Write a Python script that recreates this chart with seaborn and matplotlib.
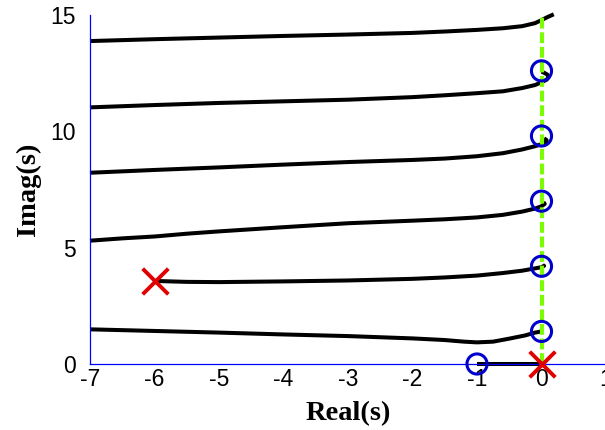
import numpy as np
import pandas as pd
import matplotlib
matplotlib.use("Agg")
import matplotlib.pyplot as plt
import seaborn as sns

# Root-locus branches (real part, imaginary part), traced from left to right
branch_1_re = [-7, -6, -5, -4, -3, -2, -1.5, -1, -0.6, -0.3, -0.1, 0.0, 0.1, 0.19]
branch_1_im = [13.88, 13.96, 14.03, 14.10, 14.16, 14.23, 14.29, 14.36, 14.43, 14.52, 14.65, 14.78, 14.92, 15.03]

branch_2_re = [-7, -6, -5, -4, -3, -2, -1.5, -1, -0.6, -0.3, -0.1, 0.0, 0.08, 0.11, 0.09, 0.04, 0.0]
branch_2_im = [11.03, 11.13, 11.22, 11.29, 11.36, 11.47, 11.55, 11.64, 11.72, 11.86, 11.99, 12.11, 12.22, 12.32, 12.44, 12.52, 12.56]

branch_3_re = [-7, -6, -5, -4, -3, -2, -1.5, -1, -0.6, -0.3, -0.1, 0.0, 0.07, 0.08, 0.04]
branch_3_im = [8.22, 8.34, 8.45, 8.57, 8.68, 8.77, 8.83, 8.93, 9.06, 9.22, 9.36, 9.45, 9.54, 9.62, 9.70]

branch_4_re = [-7, -6.5, -6, -5.5, -5, -4, -3, -2, -1.5, -1, -0.6, -0.3, -0.1, 0.0, 0.05, 0.03]
branch_4_im = [5.30, 5.40, 5.48, 5.60, 5.70, 5.88, 6.05, 6.16, 6.22, 6.30, 6.41, 6.55, 6.68, 6.78, 6.88, 6.96]

branch_5_re = [-6, -5.5, -5, -4, -3, -2, -1.5, -1, -0.6, -0.3, -0.1, 0.0, 0.04, 0.02]
branch_5_im = [3.57, 3.53, 3.52, 3.55, 3.59, 3.66, 3.72, 3.80, 3.91, 4.01, 4.11, 4.16, 4.22, 4.25]

branch_6_re = [-7, -6, -5, -4, -3, -2, -1.5, -1.2, -1, -0.75, -0.5, -0.25, -0.1, 0.0, 0.03]
branch_6_im = [1.49, 1.42, 1.35, 1.27, 1.20, 1.10, 1.03, 0.96, 0.93, 0.96, 1.09, 1.23, 1.35, 1.40, 1.43]

branch_7_re = [-1, 0]
branch_7_im = [0, 0]

# Open-loop zeros and poles
zeros_re = [0, 0, 0, 0, 0, -1]
zeros_im = [12.6, 9.8, 7.0, 4.2, 1.4, 0]
poles_re = [0, -6]
poles_im = [0, 3.57]

# Stability boundary (imaginary axis)
boundary_re = 0

x_ticks = [-7, -6, -5, -4, -3, -2, -1, 0, 1]
y_ticks = [0, 5, 10, 15]

branches = [
    (branch_1_re, branch_1_im), (branch_2_re, branch_2_im), (branch_3_re, branch_3_im),
    (branch_4_re, branch_4_im), (branch_5_re, branch_5_im), (branch_6_re, branch_6_im),
    (branch_7_re, branch_7_im),
]
locus = pd.concat(
    [pd.DataFrame({"re": re, "im": im, "branch": k, "order": np.arange(len(re))})
     for k, (re, im) in enumerate(branches)],
    ignore_index=True,
)
zeros = pd.DataFrame({"re": zeros_re, "im": zeros_im})
poles = pd.DataFrame({"re": poles_re, "im": poles_im})

sns.set_theme(style="white")
plt.rcParams["font.family"] = ["Liberation Sans", "DejaVu Sans"]
plt.rcParams["text.color"] = "black"
plt.rcParams["axes.labelcolor"] = "black"

fig = plt.figure(figsize=(6.05, 4.30), dpi=100)
ax = fig.add_axes([90 / 605, 66 / 430, 516 / 605, 349 / 430])

sns.lineplot(data=locus, x="re", y="im", units="branch", estimator=None, sort=False,
             color="black", linewidth=2.9, ax=ax, zorder=2, clip_on=False,
             solid_capstyle="butt")

ax.axvline(boundary_re, color="#7CFC00", linewidth=3, linestyle=(0, (2.6, 0.9)), zorder=3)

sns.scatterplot(data=zeros, x="re", y="im", marker="o", s=210, facecolor="none",
                edgecolor="#0000CC", linewidth=2.2, ax=ax, zorder=4, clip_on=False)
sns.scatterplot(data=poles, x="re", y="im", marker="x", s=340, color="#E00000",
                linewidth=2.8, ax=ax, zorder=5, clip_on=False)

ax.set_xlim(-7, 1)
ax.set_ylim(0, 15)
ax.set_xticks(x_ticks)
ax.set_yticks(y_ticks)
ax.set_xticklabels([str(t) for t in x_ticks])
ax.set_yticklabels([str(t) for t in y_ticks])

for side in ("top", "right"):
    ax.spines[side].set_visible(False)
for side in ("left", "bottom"):
    ax.spines[side].set_color("#0000FF")
    ax.spines[side].set_linewidth(0.9)

ax.tick_params(axis="both", direction="in", length=5, width=0.9, color="#0000FF",
               labelsize=16.5, labelcolor="black")
ax.tick_params(axis="x", pad=3)
ax.tick_params(axis="y", pad=10)

label_font = dict(family=["Liberation Serif", "DejaVu Serif"], weight="bold", size=20.5,
                  color="black")
ax.set_xlabel("Real(s)", fontdict=label_font, labelpad=7)
ax.set_ylabel("Imag(s)", fontdict=label_font, labelpad=7)

fig.savefig("out.png", dpi=100)
